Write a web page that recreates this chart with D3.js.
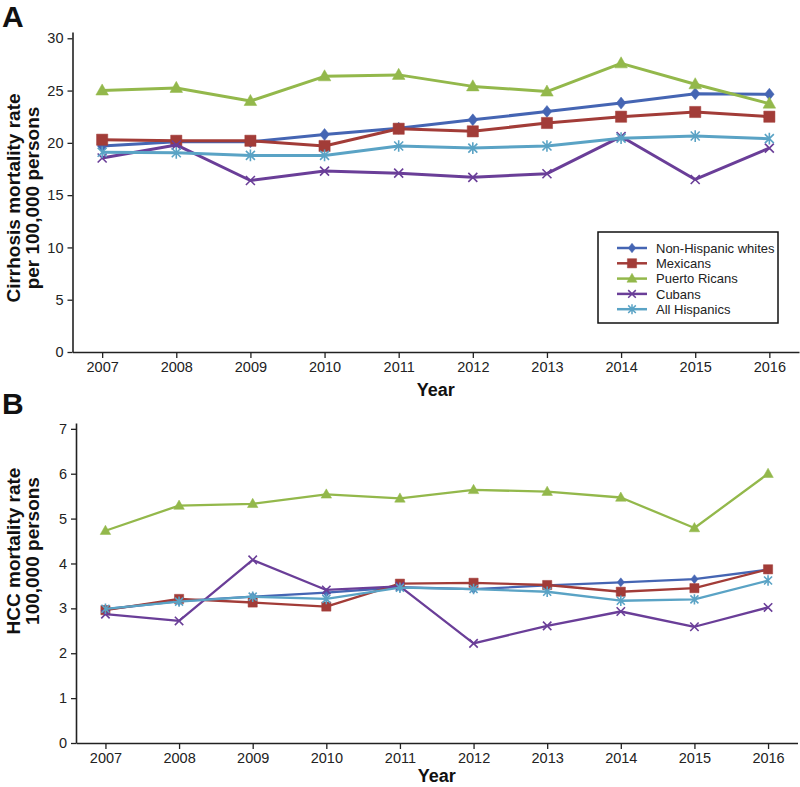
<!DOCTYPE html>
<html>
<head>
<meta charset="utf-8">
<script src="https://cdn.jsdelivr.net/npm/d3@7"></script>
<style>
  html, body { margin: 0; padding: 0; background: #fff; }
  svg { display: block; font-family: "Liberation Sans", Arial, Helvetica, sans-serif; }
</style>
</head>
<body>
<svg id="chart" width="800" height="787"></svg>
<script>
// ---------- DATA ----------
const years = [2007, 2008, 2009, 2010, 2011, 2012, 2013, 2014, 2015, 2016];
const seriesNames = ["Non-Hispanic whites", "Mexicans", "Puerto Ricans", "Cubans", "All Hispanics"];

// Panel A: cirrhosis mortality rate per 100,000
const cirrhosisWhites   = [19.7, 20.1, 20.1, 20.8, 21.4, 22.2, 23.0, 23.8, 24.7, 24.65];
const cirrhosisMexicans = [20.3, 20.2, 20.2, 19.7, 21.35, 21.1, 21.9, 22.5, 22.95, 22.5];
const cirrhosisPR       = [25.0, 25.25, 24.0, 26.36, 26.5, 25.4, 24.9, 27.6, 25.6, 23.75];
const cirrhosisCubans   = [18.55, 19.8, 16.4, 17.3, 17.1, 16.7, 17.05, 20.6, 16.5, 19.5];
const cirrhosisAllHisp  = [19.1, 19.05, 18.8, 18.8, 19.7, 19.5, 19.7, 20.45, 20.65, 20.4];
const cirrhosisTicks = [0, 5, 10, 15, 20, 25, 30];

// Panel B: HCC mortality rate per 100,000
const hccWhites   = [2.98, 3.16, 3.26, 3.35, 3.47, 3.43, 3.51, 3.58, 3.65, 3.86];
const hccMexicans = [2.96, 3.21, 3.13, 3.04, 3.55, 3.57, 3.52, 3.37, 3.45, 3.87];
const hccPR       = [4.73, 5.29, 5.33, 5.54, 5.45, 5.64, 5.60, 5.47, 4.79, 6.0];
const hccCubans   = [2.87, 2.72, 4.08, 3.41, 3.49, 2.22, 2.61, 2.93, 2.59, 3.02];
const hccAllHisp  = [2.99, 3.15, 3.26, 3.21, 3.46, 3.43, 3.37, 3.17, 3.20, 3.62];
const hccTicks = [0, 1, 2, 3, 4, 5, 6, 7];

const colors = ["#4565b3", "#a23c38", "#93b84b", "#6a3e98", "#5aa3c5"];
const markers = ["diamond", "square", "triangle", "x", "asterisk"];

// ---------- DRAW ----------
const svg = d3.select("#chart");

function markerPath(type, s) {
  switch (type) {
    case "diamond": return `M0,${-s*1.25}L${s},0L0,${s*1.25}L${-s},0Z`;
    case "square": return `M${-s},${-s}H${s}V${s}H${-s}Z`;
    case "triangle": return `M0,${-s*1.1}L${s*1.05},${s*0.75}L${-s*1.05},${s*0.75}Z`;
    case "x": return `M${-s},${-s}L${s},${s}M${-s},${s}L${s},${-s}`;
    case "asterisk": return `M${-s},${-s}L${s},${s}M${-s},${s}L${s},${-s}M0,${-s*1.3}L0,${s*1.3}`;
  }
}
const filled = { diamond: true, square: true, triangle: true, x: false, asterisk: false };

function drawPanel(cfg) {
  const g = svg.append("g");
  const x = d3.scaleLinear().domain([2006.6, 2016.4]).range(cfg.xRange);
  const y = d3.scaleLinear().domain(cfg.yDomain).range(cfg.yRange);

  // x axis
  const xAxis = g.append("g")
    .attr("transform", `translate(0,${cfg.yRange[0]})`)
    .call(d3.axisBottom(x).tickValues(years).tickFormat(d3.format("d")).tickSize(6).tickSizeOuter(0).tickPadding(4));
  // y axis
  const yAxis = g.append("g")
    .attr("transform", `translate(${cfg.xRange[0]},0)`)
    .call(d3.axisLeft(y).tickValues(cfg.ticks).tickSize(5).tickSizeOuter(0).tickPadding(4));
  [xAxis, yAxis].forEach(a => {
    a.selectAll("path.domain").attr("stroke", "#222").attr("stroke-width", 1.6);
    a.selectAll(".tick line").attr("stroke", "#222").attr("stroke-width", 1.3);
    a.selectAll(".tick text").attr("fill", "#222").style("font-size", "14.5px")
      .style("font-family", '"Liberation Sans", Arial, sans-serif');
  });

  // series
  cfg.series.forEach((vals, i) => {
    const pts = years.map((yr, j) => [x(yr), y(vals[j])]);
    g.append("path")
      .attr("d", d3.line()(pts))
      .attr("fill", "none")
      .attr("stroke", colors[i])
      .attr("stroke-width", cfg.lineWidth)
      .attr("stroke-linejoin", "round");
    const m = markers[i];
    g.selectAll(null).data(pts).join("path")
      .attr("transform", d => `translate(${d[0]},${d[1]})`)
      .attr("d", markerPath(m, cfg.msize[m]))
      .attr("fill", filled[m] ? colors[i] : "none")
      .attr("stroke", colors[i])
      .attr("stroke-width", filled[m] ? 0.5 : 1.6);
  });

  // axis titles
  g.append("text")
    .attr("x", (x(2011) + x(2012)) / 2).attr("y", cfg.yearY)
    .attr("text-anchor", "middle")
    .style("font-size", "18px").style("font-weight", "bold").attr("fill", "#111")
    .text("Year");
  const t = g.append("text")
    .attr("transform", `translate(0,${cfg.titleCY}) rotate(-90)`)
    .attr("text-anchor", "middle")
    .style("font-size", "19px").style("font-weight", "bold").attr("fill", "#111");
  t.append("tspan").attr("x", 0).attr("y", 19.5).text(cfg.title[0]);
  t.append("tspan").attr("x", 0).attr("y", 39).text(cfg.title[1]);

  // panel letter
  g.append("text")
    .attr("x", 2).attr("y", cfg.letterY)
    .style("font-size", "30px").style("font-weight", "bold").attr("fill", "#111")
    .text(cfg.letter);
  return { g, x, y };
}

drawPanel({
  letter: "A", letterY: 27,
  xRange: [72.5, 799], yRange: [352, 32], yDomain: [0, 30.6], ticks: cirrhosisTicks,
  series: [cirrhosisWhites, cirrhosisMexicans, cirrhosisPR, cirrhosisCubans, cirrhosisAllHisp],
  lineWidth: 3,
  msize: { diamond: 4.8, square: 5.6, triangle: 6, x: 4.5, asterisk: 4.5 },
  yearY: 396, titleCY: 198,
  title: ["Cirrhosis mortality rate", "per 100,000 persons"]
});

drawPanel({
  letter: "B", letterY: 414,
  xRange: [76, 797.5], yRange: [743, 423], yDomain: [0, 7.13], ticks: hccTicks,
  series: [hccWhites, hccMexicans, hccPR, hccCubans, hccAllHisp],
  lineWidth: 2.3,
  msize: { diamond: 3.6, square: 4.6, triangle: 5, x: 4.2, asterisk: 4 },
  yearY: 782, titleCY: 551,
  title: ["HCC mortality rate", "100,000 persons"]
});

// ---------- LEGEND (panel A) ----------
const leg = svg.append("g").attr("transform", "translate(598,232)");
leg.append("rect").attr("width", 180).attr("height", 91)
  .attr("fill", "#fff").attr("stroke", "#111").attr("stroke-width", 1.5);
const legSize = { diamond: 3.8, square: 4.6, triangle: 4.8, x: 3.8, asterisk: 3.8 };
seriesNames.forEach((name, i) => {
  const row = leg.append("g").attr("transform", `translate(0,${16 + i * 15.3})`);
  row.append("line").attr("x1", 19).attr("x2", 49).attr("y1", 0).attr("y2", 0)
    .attr("stroke", colors[i]).attr("stroke-width", 2.5);
  const m = markers[i];
  row.append("path").attr("transform", "translate(34,0)")
    .attr("d", markerPath(m, legSize[m]))
    .attr("fill", filled[m] ? colors[i] : "none")
    .attr("stroke", colors[i]).attr("stroke-width", filled[m] ? 0.5 : 1.5);
  row.append("text").attr("x", 58).attr("y", 4.8)
    .style("font-size", "13px").attr("fill", "#222").text(name);
});
</script>
</body>
</html>
